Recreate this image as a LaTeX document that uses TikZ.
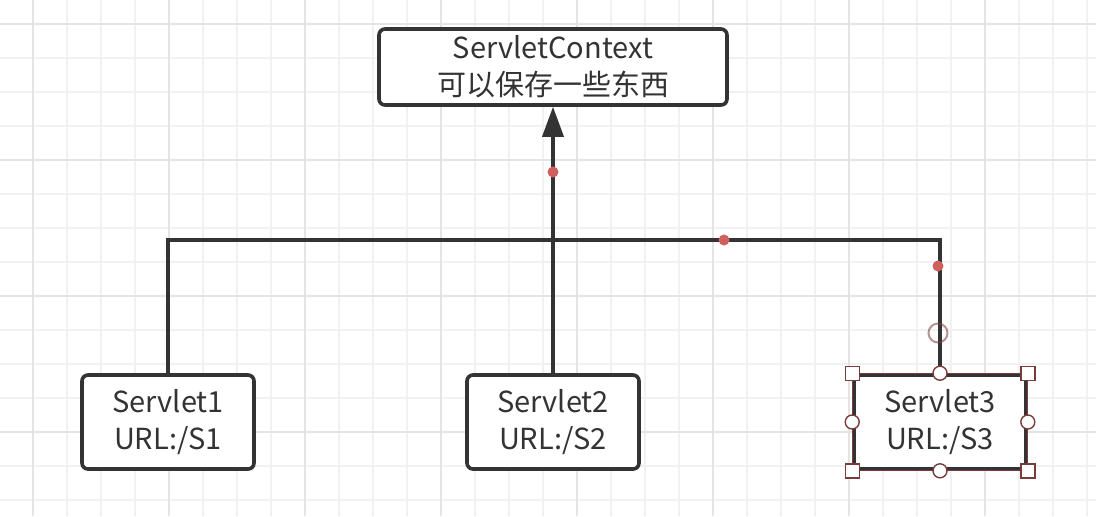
\documentclass[tikz,border=0pt]{standalone}
\usepackage{fontspec}
\setmainfont{Noto Sans CJK SC}
\usepackage{tikz}
\usetikzlibrary{positioning, arrows.meta}
\definecolor{linegray}{HTML}{333333}
\definecolor{dotred}{HTML}{D0605E}
\definecolor{handle}{HTML}{7A3B3B}
\definecolor{gridminor}{HTML}{F1F1F1}
\definecolor{gridmajor}{HTML}{E4E4E4}

\begin{document}
\begin{tikzpicture}[x=0.5pt, y=-0.5pt, >=Triangle,
    box/.style={draw=linegray, line width=1.8pt, rounded corners=3pt, fill=white,
        minimum width=86pt, minimum height=47pt, align=center, text=linegray,
        font=\fontsize{14.5}{18.5}\selectfont},
    link/.style={draw=linegray, line width=1.8pt},
    reddot/.style={circle, fill=dotred, inner sep=0pt, minimum size=5.5pt},
    sqhandle/.style={draw=handle, fill=white, line width=0.7pt, inner sep=0pt, minimum size=7pt},
    cihandle/.style={circle, draw=handle, fill=white, line width=0.7pt, inner sep=0pt, minimum size=7pt}]

    \useasboundingbox (0,0) rectangle (1096,516);
    \fill[white] (0,0) rectangle (1096,516);

    % Grid
    \foreach \x in {33,67,...,1087} {
        \draw[gridminor, line width=0.6pt] (\x,0) -- (\x,516);
    }
    \foreach \y in {24,58,...,510} {
        \draw[gridminor, line width=0.6pt] (0,\y) -- (1096,\y);
    }
    \foreach \x in {33,169,...,1087} {
        \draw[gridmajor, line width=0.6pt] (\x,0) -- (\x,516);
    }
    \foreach \y in {24,160,...,510} {
        \draw[gridmajor, line width=0.6pt] (0,\y) -- (1096,\y);
    }

    % Context box
    \node[box, minimum width=174pt, minimum height=38pt] (ctx) at (553,67) {ServletContext\\可以保存一些东西};

    % Servlets
    \node[box] (s1) at (168,422) {Servlet1\\URL:/S1};
    \node[box] (s2) at (553,422) {Servlet2\\URL:/S2};
    \node[box] (s3) at (940,422) {Servlet3\\URL:/S3};

    % Connectors
    \coordinate (bus) at (553,240);
    \draw[link] (s1.north) |- (bus) -| (s3.north);
    \draw[link, -{Triangle[length=15pt, width=10.5pt]}] (s2.north) -- (ctx.south);

    % Red points on the lines
    \node[reddot] (d1) at (553,172) {};
    \node[reddot] (d2) at (724,240) {};
    \node[reddot] (d3) at (938,266) {};
    \node[circle, draw=handle, draw opacity=0.55, line width=1pt, inner sep=0pt, minimum size=9.5pt] (hov) at (938,333) {};

    % Selection of Servlet3
    \draw[handle, line width=0.6pt] (s3.north west) rectangle (s3.south east);
    \foreach \a/\n in {north west/nw, north east/ne, south west/sw, south east/se} {
        \node[sqhandle] (h\n) at (s3.\a) {};
    }
    \foreach \a/\n in {north/n, south/s, east/e, west/w} {
        \node[cihandle] (h\n) at (s3.\a) {};
    }
\end{tikzpicture}
\end{document}
